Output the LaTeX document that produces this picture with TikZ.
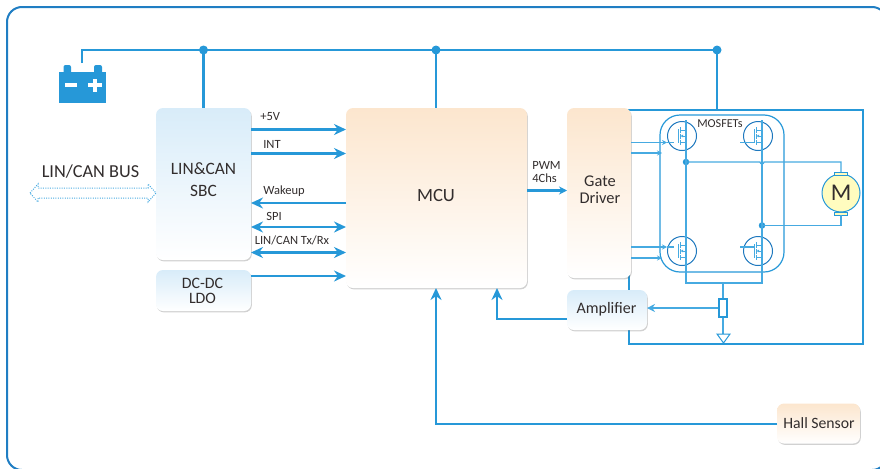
\documentclass[tikz,border=0pt]{standalone}
\usepackage{fontspec}
\setmainfont{Carlito}
\usetikzlibrary{arrows.meta,shadows,calc}
\definecolor{ln}{RGB}{38,152,216}
\definecolor{lnl}{RGB}{70,170,225}
\definecolor{dk}{RGB}{30,120,190}
\definecolor{bt}{RGB}{216,236,249}
\definecolor{ot}{RGB}{252,230,206}
\definecolor{txt}{RGB}{50,45,45}
\def\px{*0.75pt}
\tikzset{
 box/.style={rounded corners=7\px,inner sep=0pt,outer sep=0pt,text=txt,align=center,
   drop shadow={shadow xshift=0.6pt,shadow yshift=-1pt,opacity=.3,fill=black!60}},
 bluebox/.style={box,top color=bt,bottom color=white},
 orangebox/.style={box,top color=ot,bottom color=white},
 wire/.style={draw=ln,line width=2.2\px},
 fine/.style={draw=lnl,line width=1.15\px},
 bus/.style={draw=ln,line width=2.2\px},
 arr/.style={bus,-{Stealth[length=12\px,width=11\px]}},
 darr/.style={bus,{Stealth[length=12\px,width=11\px]}-{Stealth[length=12\px,width=11\px]}},
 thin wire/.style={draw=lnl,line width=1.1\px},
 lab/.style={text=txt,font=\fontsize{9.4}{10}\selectfont,inner sep=0pt},
 big/.style={text=txt,inner sep=0pt},
 dot/.style={circle,fill=ln,inner sep=0pt,minimum size=9\px},
 sdot/.style={circle,fill=ln,inner sep=0pt,minimum size=6.5\px},
}
\begin{document}
\begin{tikzpicture}[x=0.75pt,y=-0.75pt]
\useasboundingbox (0,0) rectangle (880,468);
% outer frame
\draw[draw=dk!80!ln,line width=2\px,rounded corners=15\px] (7,7) rectangle (887,470);
% power-stage frame
\coordinate (ftl) at (629,110);
\coordinate (fbr) at (863,344);
\draw[draw=ln,line width=2.2\px] (ftl) rectangle (fbr);
% MOSFET group
\node[draw=ln,line width=1.2\px,rounded corners=20\px,minimum width=124\px,minimum height=157\px,inner sep=0pt] (grp) at (722,193.5) {};
% blocks
\node[bluebox,minimum width=95\px,minimum height=152\px] (sbc) at (203.5,184) {};
\node[orangebox,minimum width=181\px,minimum height=180\px] (mcu) at (436.5,198) {};
\node[orangebox,minimum width=64\px,minimum height=170\px] (gd) at (599,193) {};
\node[bluebox,minimum width=95\px,minimum height=41\px] (ldo) at (203.5,290.5) {};
\node[bluebox,minimum width=80\px,minimum height=40\px] (amp) at (607,310) {};
\node[orangebox,minimum width=83\px,minimum height=40\px] (hall) at (818.5,423.5) {};
\node[big,font=\fontsize{13}{13}\selectfont] (tsbc) at (203.5,168.5) {LIN\&CAN};
\node[big,font=\fontsize{13}{13}\selectfont] (tsbc2) at (203.5,191) {SBC};
\node[big,font=\fontsize{14}{14}\selectfont] (tmcu) at (436,196) {MCU};
\node[big,font=\fontsize{12.3}{13}\selectfont] (tgd) at (600,181.5) {Gate};
\node[big,font=\fontsize{12.3}{13}\selectfont] (tgd2) at (600,198) {Driver};
\node[big,font=\fontsize{11.9}{12}\selectfont] (tldo) at (202.5,283) {DC-DC};
\node[big,font=\fontsize{11.9}{12}\selectfont] (tldo2) at (202.5,298.5) {LDO};
\node[big,font=\fontsize{12}{12}\selectfont] (tamp) at (606.5,309) {Amplifier};
\node[big,font=\fontsize{11.8}{12}\selectfont] (thall) at (819,423.5) {Hall Sensor};
\node[big,font=\fontsize{13.7}{14}\selectfont] (tbus) at (90.5,171.5) {LIN/CAN BUS};
% battery
\node[fill=ln,inner sep=0pt,minimum width=47\px,minimum height=31\px] (bat) at (82.5,87.5) {};
\fill[ln,rounded corners=2\px] (63.5,75) -- (63.5,65) -- (71,65) -- (71,75) -- cycle;
\fill[ln,rounded corners=2\px] (94,75) -- (94,65) -- (102,65) -- (102,75) -- cycle;
\fill[white] (64.5,83) rectangle (77,87);
\fill[white] (88,83) rectangle (102,87);
\fill[white] (93,78.5) rectangle (97,92);
% rail
\coordinate (r0) at (82,50);
\node[dot] (d1) at (203.5,50) {};
\node[dot] (d2) at (436,50) {};
\node[dot] (d3) at (717,50) {};
\draw[wire] (82,63) -- (r0) -- (d3.center);
\draw[wire] (d1.center) -- (d1 |- sbc.north);
\draw[wire] (d2.center) -- (d2 |- mcu.north);
\draw[wire] (d3.center) -- (d3 |- ftl);
% SBC/MCU signals
\draw[arr] (sbc.east |- 0,129.5) -- (mcu.west |- 0,129.5);
\draw[arr] (sbc.east |- 0,153.5) -- (mcu.west |- 0,153.5);
\draw[arr] (mcu.west |- 0,203) -- (sbc.east |- 0,203);
\draw[darr] (sbc.east |- 0,227) -- (mcu.west |- 0,227);
\draw[darr] (sbc.east |- 0,252.5) -- (mcu.west |- 0,252.5);
\draw[arr] (ldo.east |- 0,276) -- (mcu.west |- 0,276);
\node[lab,anchor=west] (l1) at (260,117) {+5V};
\node[lab,anchor=west] (l2) at (263,144) {INT};
\node[lab,anchor=west] (l3) at (263,191) {Wakeup};
\node[lab,anchor=west] (l4) at (266,216) {SPI};
\node[lab,anchor=west] (l5) at (254.5,240) {LIN/CAN Tx/Rx};
\draw[bus,-{Stealth[length=8\px,width=8\px]}] (mcu.east |- 0,190.5) -- (gd.west |- 0,190.5);
\node[lab,anchor=west] (l6) at (532,165) {PWM};
\node[lab,anchor=west] (l7) at (532,178) {4Chs};
% bus arrow
\draw[draw=lnl,line width=1\px,densely dotted,line join=miter] (30,193) -- (38,184) -- (38,188) -- (148,188) -- (148,184) -- (156,193) -- (148,202) -- (148,198) -- (38,198) -- (38,202) -- cycle;
% amplifier / hall
\coordinate (e1) at (497,319);
\draw[arr] (amp.west |- e1) -- (e1) -- (e1 |- mcu.south);
\coordinate (e2) at (436,424);
\draw[arr] (hall.west |- e2) -- (e2) -- (e2 |- mcu.south);
% mosfets
\foreach \n/\cx/\cy in {q1/682/136,q2/758/136,q3/682/251,q4/758/251}{
  \node[draw=dk,line width=1\px,circle,minimum size=29\px,inner sep=0pt] (\n) at (\cx,\cy) {};
  \begin{scope}[shift={(\n.center)}]
    \draw[lnl,line width=.9\px] (-4,-7) -- (-4,7);
    \draw[lnl,line width=.9\px] (-2,-9) -- (-2,-3.5) (-2,-2.5) -- (-2,2.5) (-2,3.5) -- (-2,9);
    \draw[lnl,line width=.9\px] (-2,-6) -- (4,-6) (-2,6) -- (4,6);
    \draw[lnl,line width=.9\px] (4,0) -- (4,6);
    \draw[lnl,line width=.9\px,-{Latex[open,length=3\px,width=3\px]}] (4,0) -- (-2,0);
  \end{scope}
}
% drain/source verticals
\coordinate (bl) at (686,283);
\coordinate (br) at (762,283);
\coordinate (tl) at (686,120);
\coordinate (tr) at (762,120);
\node[sdot] (j1) at (686,162) {};
\node[sdot] (j2) at (762,225.5) {};
\draw[fine] (tl) -- (bl) -- (br) -- (tr);
% gates
\foreach \n/\yy in {q1/142.5,q3/247}{
  \draw[fine,-{Stealth[length=5\px,width=5\px]}] (gd.east |- 0,\yy) -- (\n.west |- 0,\yy);
  \draw[thin wire] (\n.west |- 0,\yy) -- ++(7,0);
}
\foreach \yy in {153,258}{
  \draw[fine,-{Stealth[length=5\px,width=5\px]}] (gd.east |- 0,\yy) -- (662,\yy);
}
\foreach \n/\yy in {q2/142.5,q4/247}{
  \draw[thin wire] (740,\yy) -- (754,\yy);
}
% motor
\node[draw=ln,line width=1\px,circle,fill=yellow!25,minimum size=38\px,inner sep=0pt,font=\fontsize{18}{18}\selectfont,text=txt] (m) at (841,193) {M};
\draw[draw=ln,fill=yellow!25,line width=1\px] (834.5,172) rectangle (847.5,175);
\draw[draw=ln,fill=yellow!25,line width=1\px] (834.5,212) rectangle (847.5,215);
\coordinate (mt) at (841,172);
\coordinate (mb) at (841,215);
\draw[fine] (j1.center) -- (760,162) arc[start angle=180,end angle=0,radius=2] -- (mt |- j1) -- (mt);
\draw[fine] (j2.center) -- (mb |- j2) -- (mb);
\node[lab,anchor=west,font=\fontsize{9.1}{10}\selectfont] (tmos) at (697,124) {MOSFETs};
% shunt
\node[draw=ln,fill=white,line width=1.2\px,minimum width=8\px,minimum height=18\px,inner sep=0pt] (rs) at (723,308) {};
\coordinate (rt) at (723,283);
\draw[fine] (rt) -- (rs.north);
\coordinate (gnd) at (723,334);
\draw[fine] (rs.south) -- (gnd);
\draw[draw=ln,line width=1\px,fill=white] (717,334) -- (730,334) -- (723.5,343) -- cycle;
\draw[fine,-{Stealth[length=8\px,width=8\px]}] (rs.west) -- (amp.east |- rs.west);
\end{tikzpicture}
\end{document}
